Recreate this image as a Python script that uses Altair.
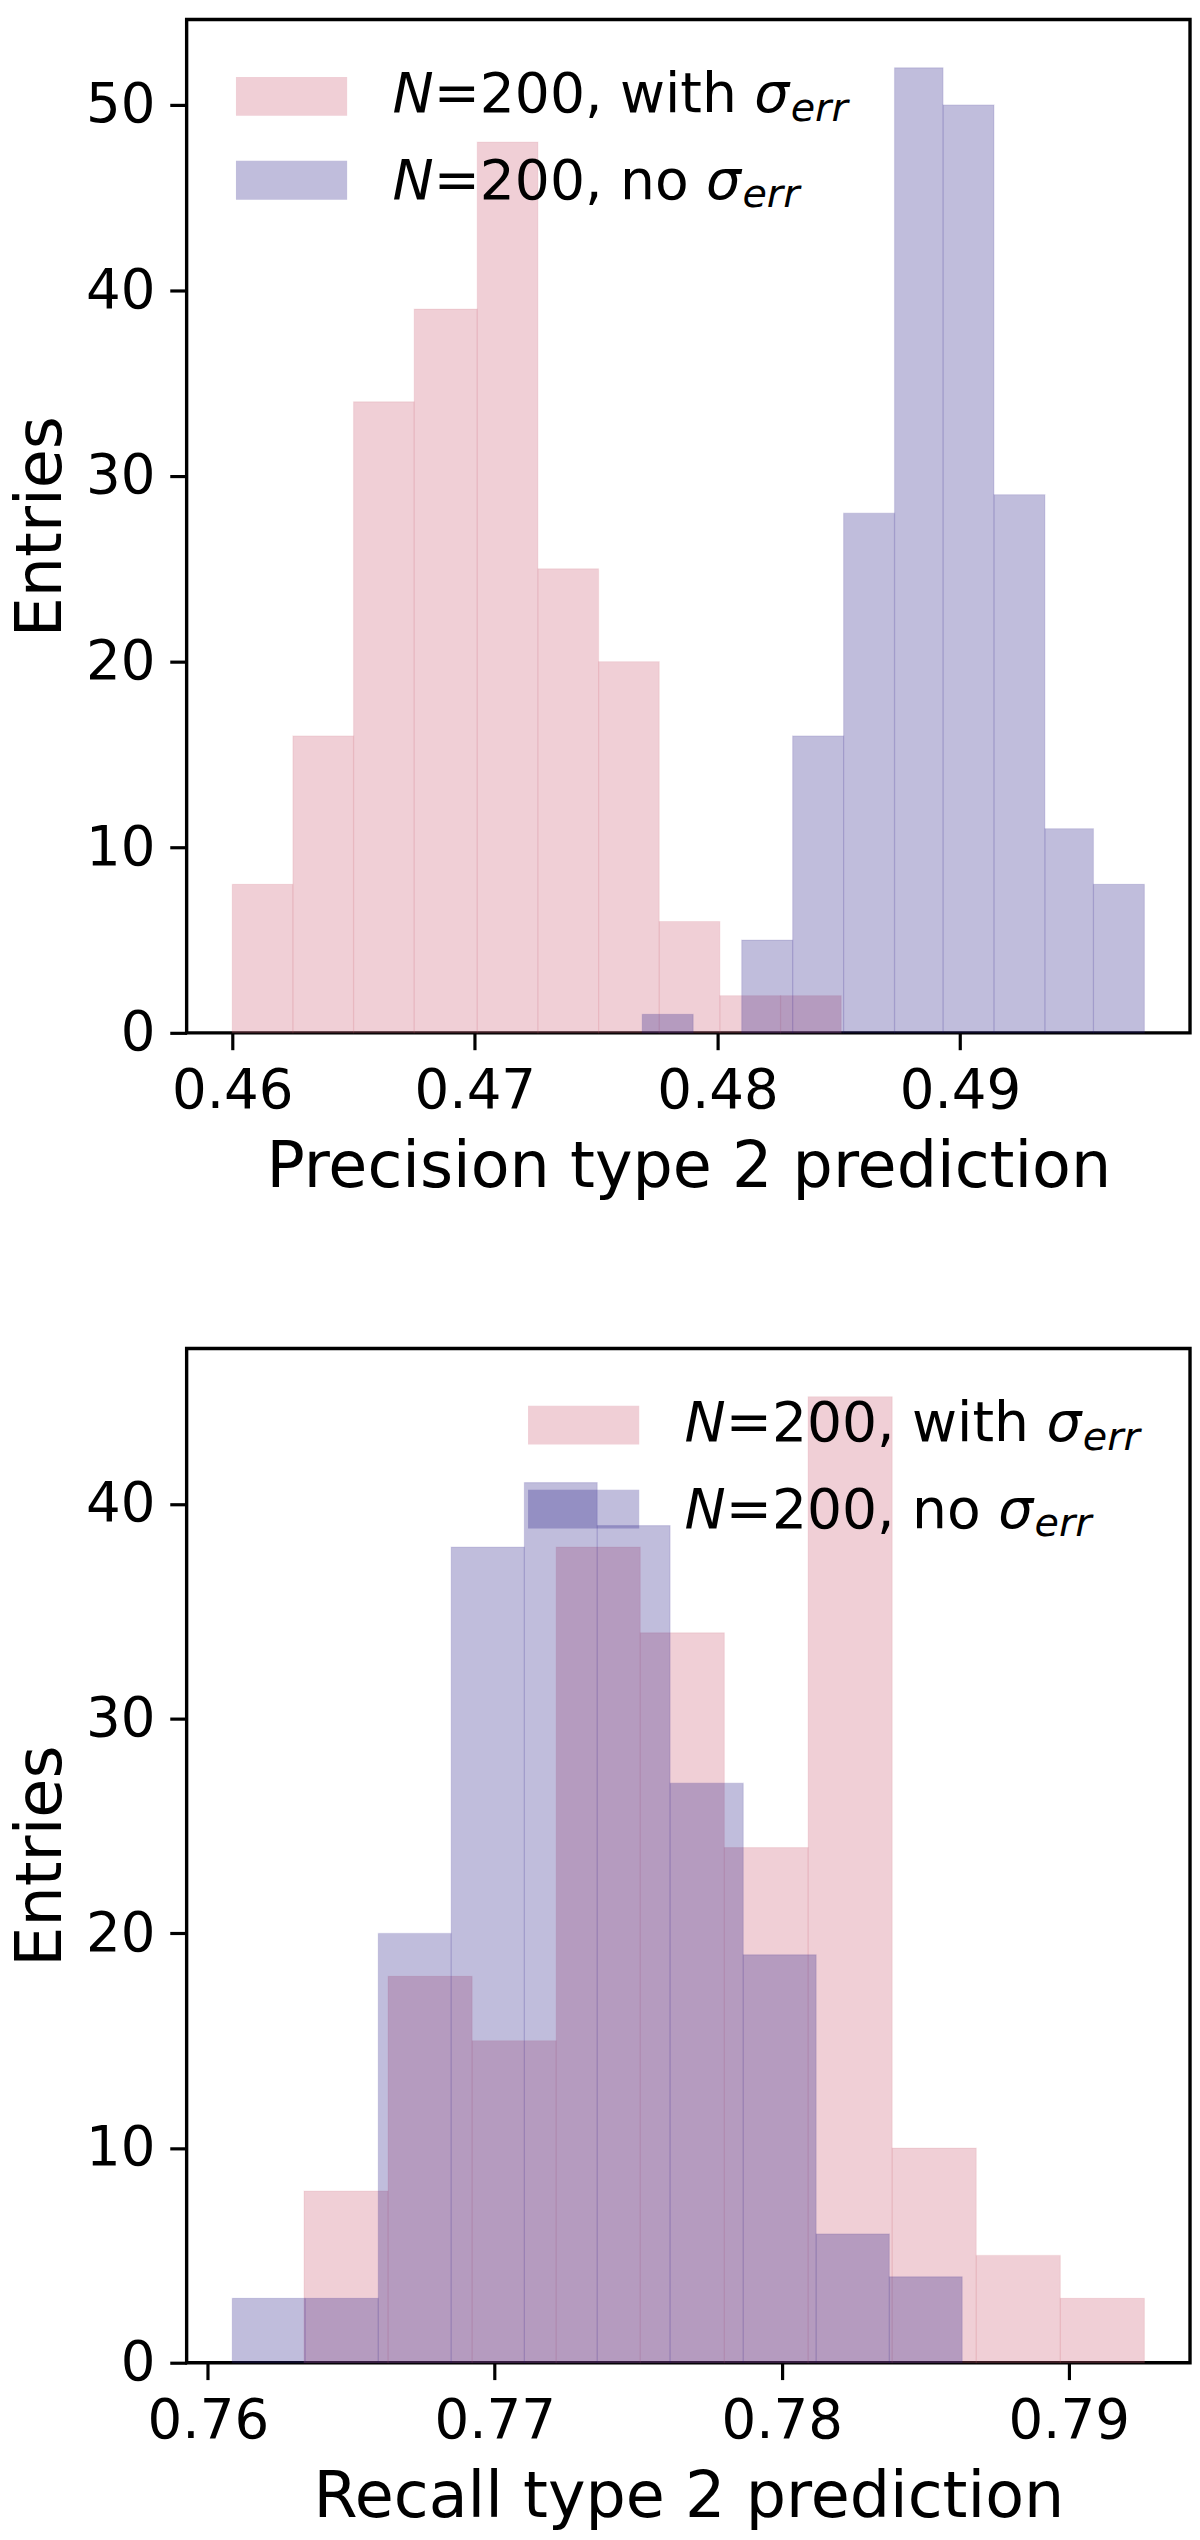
import altair as alt
import pandas as pd

FONT = "DejaVu Sans"
PINK = "#cd5f76"
PURPLE = "#30238a"
ALPHA = 0.3

# ---------------- data ----------------
# Top panel: precision of type 2 prediction
prec_with_edges = [0.4600, 0.4625, 0.4650, 0.4675, 0.4701, 0.4726,
                   0.4751, 0.4776, 0.4801, 0.4826, 0.4851]
prec_with_counts = [8, 16, 34, 39, 48, 25, 20, 6, 2, 2]
prec_no_edges = [0.4769, 0.4790, 0.4810, 0.4831, 0.4852, 0.4873,
                 0.4893, 0.4914, 0.4935, 0.4955, 0.4976]
prec_no_counts = [1, 0, 5, 16, 28, 52, 50, 29, 11, 8]

# Bottom panel: recall of type 2 prediction
rec_with_edges = [0.76335, 0.76628, 0.76921, 0.77214, 0.77507, 0.77800,
                  0.78092, 0.78385, 0.78678, 0.78971, 0.79264]
rec_with_counts = [8, 18, 15, 38, 34, 24, 45, 10, 5, 3]
rec_no_edges = [0.76085, 0.76339, 0.76594, 0.76848, 0.77103, 0.77357,
                0.77611, 0.77866, 0.78120, 0.78375, 0.78629]
rec_no_counts = [3, 3, 20, 38, 41, 39, 27, 19, 6, 4]

prec_xticks = [0.46, 0.47, 0.48, 0.49]
rec_xticks = [0.76, 0.77, 0.78, 0.79]
prec_xdomain = [0.45812, 0.49948]
rec_xdomain = [0.75926, 0.79423]
prec_ydomain = [0, 54.6]
rec_ydomain = [0, 47.25]
prec_yticks = [0, 10, 20, 30, 40, 50]
rec_yticks = [0, 10, 20, 30, 40]

x_titles = ["Precision type 2 prediction", "Recall type 2 prediction"]
y_title = "Entries"
legend_mid = ["=200, with ", "=200, no "]

# ---------------- layout / style ----------------
W = 1011
H_TOP = 1021
H_BOT = 1022
TICK_FS = 55
TITLE_FS = 64
LEG_FS = 55.5

# DejaVu Sans advance widths (em) used to place legend text pieces
ADV = {"=": 0.8379, "2": 0.6362, "0": 0.6362, ",": 0.3179, " ": 0.3179,
       "w": 0.8179, "i": 0.2778, "t": 0.3921, "h": 0.6338, "n": 0.6338,
       "o": 0.6118}
ADV_N_IT = 0.748
ADV_SIGMA = 0.66


def text_width(s, size):
    return sum(ADV.get(c, 0.6) for c in s) * size


def hist_frame(edges, counts):
    return pd.DataFrame({"lo": edges[:-1], "hi": edges[1:],
                         "count": counts, "base": [0] * len(counts)})


def x_axis(ticks, title):
    return alt.Axis(values=ticks, format=".2f", title=title,
                    labelFontSize=TICK_FS, titleFontSize=TITLE_FS,
                    labelFont=FONT, titleFont=FONT, titleFontWeight="normal",
                    labelColor="black", titleColor="black",
                    tickColor="black", tickWidth=3.2, tickSize=17,
                    labelPadding=15, titlePadding=18, grid=False,
                    domain=False, labelFlush=False, labelOverlap=False)


def y_axis(ticks):
    return alt.Axis(values=ticks, format="d", title=y_title,
                    labelFontSize=TICK_FS, titleFontSize=TITLE_FS,
                    labelFont=FONT, titleFont=FONT, titleFontWeight="normal",
                    labelColor="black", titleColor="black",
                    tickColor="black", tickWidth=3.2, tickSize=17,
                    labelPadding=15, titlePadding=12, grid=False,
                    domain=False, labelOverlap=False)


def bars(df, color, xs, ys, xa, ya):
    return alt.Chart(df).transform_filter("datum.count > 0").mark_rect(
        fill=color, fillOpacity=ALPHA, stroke=color, strokeOpacity=0.12,
        strokeWidth=1.2
    ).encode(
        x=alt.X("lo:Q", scale=xs, axis=xa),
        x2="hi",
        y=alt.Y("count:Q", scale=ys, axis=ya),
        y2="base",
    )


ONE = pd.DataFrame({"k": [0]})


def handle(x0, x1, y0, y1, color):
    return alt.Chart(ONE).mark_rect(fill=color, fillOpacity=ALPHA).encode(
        x=alt.value(x0), x2=alt.value(x1), y=alt.value(y0), y2=alt.value(y1))


def label(txt, x, y, size, italic):
    return alt.Chart(ONE).mark_text(
        text=txt, font=FONT, fontSize=size,
        fontStyle="italic" if italic else "normal",
        align="left", baseline="alphabetic", color="black"
    ).encode(x=alt.value(x), y=alt.value(y))


HANDLE_W = 112
HANDLE_H = 39.1
ROW_TOPS = [57.8, 142.4]
ROW_BASES = [93.6, 180.8]
TEXT_GAP = 157.7
SUB_FS = 40
SUB_DROP = 8.5


def legend(hx):
    layers = []
    colors = [PINK, PURPLE]
    for i in range(2):
        top = ROW_TOPS[i]
        layers.append(handle(hx, hx + HANDLE_W, top, top + HANDLE_H, colors[i]))
    for i in range(2):
        base = ROW_BASES[i]
        x = hx + TEXT_GAP
        layers.append(label("N", x, base, LEG_FS, True))
        x += ADV_N_IT * LEG_FS
        layers.append(label(legend_mid[i], x, base, LEG_FS, False))
        x += text_width(legend_mid[i], LEG_FS)
        layers.append(label("σ", x, base, LEG_FS, True))
        x += ADV_SIGMA * LEG_FS
        layers.append(label("err", x, base + SUB_DROP, SUB_FS, True))
    return layers


def panel(w_edges, w_counts, n_edges, n_counts, xdom, xticks, ydom, yticks,
          xtitle, height, hx):
    xs = alt.Scale(domain=xdom, nice=False, zero=False)
    ys = alt.Scale(domain=ydom, nice=False, zero=False)
    xa = x_axis(xticks, xtitle)
    ya = y_axis(yticks)
    b1 = bars(hist_frame(w_edges, w_counts), PINK, xs, ys, xa, ya)
    b2 = bars(hist_frame(n_edges, n_counts), PURPLE, xs, ys, xa, ya)
    return alt.layer(b1, b2, *legend(hx)).properties(width=W, height=height)


top = panel(prec_with_edges, prec_with_counts, prec_no_edges, prec_no_counts,
            prec_xdomain, prec_xticks, prec_ydomain, prec_yticks,
            x_titles[0], H_TOP, 49.7)
bottom = panel(rec_with_edges, rec_with_counts, rec_no_edges, rec_no_counts,
               rec_xdomain, rec_xticks, rec_ydomain, rec_yticks,
               x_titles[1], H_BOT, 344)

chart = alt.vconcat(top, bottom, spacing=146).properties(
    padding={"left": 0, "top": 0, "right": 0, "bottom": 0}
).configure(font=FONT, background="white").configure_view(
    stroke="black", strokeWidth=3.4
)

chart.save("out.html", embed_options={"renderer": "svg", "actions": False})
